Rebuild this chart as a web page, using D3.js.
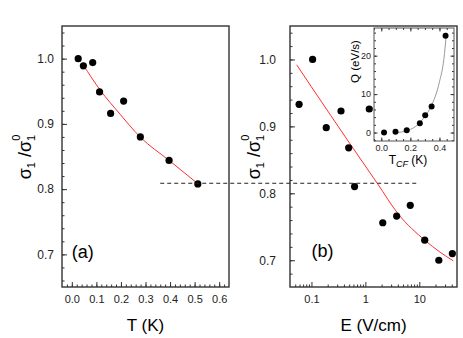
<!DOCTYPE html>
<html>
<head>
<meta charset="utf-8">
<script src="https://cdn.jsdelivr.net/npm/d3@7"></script>
<style>
body { margin: 0; background: #fff; }
svg { display: block; font-family: "Liberation Sans", Arial, sans-serif; }
.frame { fill: none; stroke: #333; stroke-width: 1.4; }
.axis path { display: none; }
.axis line { stroke: #333; stroke-width: 1; }
.axis text { fill: #222; }
</style>
</head>
<body>
<script>
// (a) sigma vs temperature
const tempT = [0.026, 0.047, 0.085, 0.113, 0.158, 0.211, 0.279, 0.396, 0.513];
const tempSigma = [1.000, 0.989, 0.994, 0.949, 0.916, 0.935, 0.880, 0.844, 0.808];
const tempFitT = [0.047, 0.115, 0.196, 0.278, 0.396, 0.511];
const tempFitSigma = [0.990, 0.952, 0.915, 0.880, 0.844, 0.809];

// (b) sigma vs field
const fieldE = [0.059, 0.105, 0.188, 0.353, 0.49, 0.63, 1.18, 2.1, 3.8, 6.8, 12.6, 23, 41];
const fieldSigma = [0.933, 1.000, 0.898, 0.923, 0.868, 0.810, 0.926, 0.756, 0.766, 0.782, 0.730, 0.700, 0.710];
const fieldFitE = [0.0532, 0.1, 0.519, 1.69, 4.08, 12.6, 24.3, 42.8];
const fieldFitSigma = [0.992, 0.959, 0.874, 0.814, 0.769, 0.730, 0.712, 0.699];

// inset: Q vs T_CF
const insetT = [0.019, 0.098, 0.175, 0.265, 0.302, 0.346, 0.442];
const insetQ = [0.0, 0.2, 0.6, 2.4, 4.5, 6.8, 25.2];
const insetFitT = [0.08, 0.12, 0.16, 0.20, 0.25, 0.30, 0.35, 0.40, 0.43, 0.448];
const insetFitQ = [0.0, 0.05, 0.3, 0.8, 2.0, 4.2, 7.4, 13.2, 19.0, 26.0];

// tick labels
const tTicks = [0, 0.1, 0.2, 0.3, 0.4, 0.5, 0.6];
const eTicks = [0.1, 1, 10];
const sigmaTicks = [0.7, 0.8, 0.9, 1.0];
const insetTTicks = [0, 0.2, 0.4];
const insetQTicks = [0, 10, 20];

// dashed guide: level and its ends
const guideLevel = 0.809;
const guideFromT = 0.36, guideToE = 10;

const width = 463, height = 338;
const panelA = {left: 62, right: 229, top: 26, bottom: 287};
const panelB = {left: 290, right: 457, top: 26, bottom: 287};
const inset = {left: 374, right: 454, top: 28, bottom: 141};

let svg = d3.select("body").append("svg")
    .attr("width", width)
    .attr("height", height);

svg.append("rect")
    .attr("width", width)
    .attr("height", height)
    .attr("fill", "#fff");

let xT = d3.scaleLinear().domain([-0.04, 0.64]).range([panelA.left, panelA.right]);
let yA = d3.scaleLinear().domain([0.65, 1.05]).range([panelA.bottom, panelA.top]);
let xE = d3.scaleLog().domain([0.04, 50]).range([panelB.left, panelB.right]);
let yB = d3.scaleLinear().domain([0.66, 1.05]).range([panelB.bottom, panelB.top]);
let xI = d3.scaleLinear().domain([-0.05, 0.5]).range([inset.left, inset.right]);
let yI = d3.scaleLinear().domain([-2.2, 27.2]).range([inset.bottom, inset.top]);

function addAxis(axis, transform, fontSize) {
    let g = svg.append("g")
        .attr("class", "axis")
        .attr("transform", transform)
        .call(axis);
    g.selectAll("text").style("font-size", fontSize + "px");
    return g;
}

// ---- panel (a)
addAxis(d3.axisBottom(xT).tickValues(d3.range(-0.02, 0.64, 0.02)).tickFormat("").tickSize(-2.5),
    "translate(0," + panelA.bottom + ")", 11);
addAxis(d3.axisBottom(xT).tickValues(tTicks).tickFormat(d3.format(".1f")).tickSize(-5).tickPadding(8),
    "translate(0," + panelA.bottom + ")", 11);
addAxis(d3.axisLeft(yA).tickValues(d3.range(0.66, 1.05, 0.02)).tickFormat("").tickSize(-2.5),
    "translate(" + panelA.left + ",0)", 12);
addAxis(d3.axisLeft(yA).tickValues(sigmaTicks).tickFormat(d3.format(".1f")).tickSize(-5).tickPadding(8),
    "translate(" + panelA.left + ",0)", 12);

svg.append("rect")
    .attr("class", "frame")
    .attr("x", panelA.left).attr("y", panelA.top)
    .attr("width", panelA.right - panelA.left)
    .attr("height", panelA.bottom - panelA.top);

let fitA = d3.line()
    .x(function(d, i) { return xT(tempFitT[i]); })
    .y(function(d) { return yA(d); })
    .curve(d3.curveMonotoneX);

svg.append("path")
    .datum(tempFitSigma)
    .attr("fill", "none")
    .attr("stroke", "#ff3030")
    .attr("stroke-width", 1)
    .attr("d", fitA);

svg.append("g").selectAll("circle")
    .data(tempSigma)
    .join("circle")
    .attr("cx", (d, i) => xT(tempT[i]))
    .attr("cy", d => yA(d))
    .attr("r", 3.6)
    .attr("fill", "#000");

svg.append("text")
    .attr("x", xT(0.0))
    .attr("y", 258)
    .style("font-size", "18px")
    .text("(a)");

svg.append("text")
    .attr("x", (panelA.left + panelA.right) / 2)
    .attr("y", 331)
    .style("text-anchor", "middle")
    .style("font-size", "17px")
    .text("T (K)");

// ---- panel (b)
let eMinor = [0.05, 0.06, 0.07, 0.08, 0.09, 0.2, 0.3, 0.4, 0.5, 0.6, 0.7, 0.8, 0.9,
    2, 3, 4, 5, 6, 7, 8, 9, 20, 30, 40];
addAxis(d3.axisBottom(xE).tickValues(eMinor).tickFormat("").tickSize(-2.5),
    "translate(0," + panelB.bottom + ")", 11);
addAxis(d3.axisBottom(xE).tickValues(eTicks).tickFormat(d3.format("")).tickSize(-5).tickPadding(8),
    "translate(0," + panelB.bottom + ")", 11);
addAxis(d3.axisLeft(yB).tickValues(d3.range(0.68, 1.05, 0.02)).tickFormat("").tickSize(-2.5),
    "translate(" + panelB.left + ",0)", 12);
addAxis(d3.axisLeft(yB).tickValues(sigmaTicks).tickFormat(d3.format(".1f")).tickSize(-5).tickPadding(14),
    "translate(" + panelB.left + ",0)", 12);

svg.append("rect")
    .attr("class", "frame")
    .attr("x", panelB.left).attr("y", panelB.top)
    .attr("width", panelB.right - panelB.left)
    .attr("height", panelB.bottom - panelB.top);

let fitB = d3.line()
    .x(function(d, i) { return xE(fieldFitE[i]); })
    .y(function(d) { return yB(d); })
    .curve(d3.curveMonotoneX);

svg.append("path")
    .datum(fieldFitSigma)
    .attr("fill", "none")
    .attr("stroke", "#ff3030")
    .attr("stroke-width", 1)
    .attr("d", fitB);

svg.append("g").selectAll("circle")
    .data(fieldSigma)
    .join("circle")
    .attr("cx", (d, i) => xE(fieldE[i]))
    .attr("cy", d => yB(d))
    .attr("r", 3.6)
    .attr("fill", "#000");

svg.append("text")
    .attr("x", xE(0.1))
    .attr("y", 257)
    .style("font-size", "18px")
    .text("(b)");

svg.append("text")
    .attr("x", (panelB.left + panelB.right) / 2)
    .attr("y", 331)
    .style("text-anchor", "middle")
    .style("font-size", "17px")
    .text("E (V/cm)");

// dashed guide across both panels
svg.append("line")
    .attr("x1", xT(guideFromT))
    .attr("x2", xE(guideToE))
    .attr("y1", yA(guideLevel))
    .attr("y2", yA(guideLevel))
    .attr("stroke", "#222")
    .attr("stroke-width", 1)
    .attr("stroke-dasharray", "4,3");

// y labels
function sigmaLabel(cx, cy) {
    let t = svg.append("text")
        .attr("transform", "translate(" + cx + "," + cy + ") rotate(-90)")
        .style("text-anchor", "middle")
        .style("font-size", "18px");
    t.append("tspan").text("\u03c3");
    t.append("tspan").attr("dy", 4).style("font-size", "11px").text("1");
    t.append("tspan").attr("dy", -4).text(" /\u03c3");
    t.append("tspan").attr("dy", 4).style("font-size", "11px").text("1");
    t.append("tspan").attr("dx", -6).attr("dy", -15).style("font-size", "11px").text("0");
}
sigmaLabel(31, 157);
sigmaLabel(260, 157);

// ---- inset
svg.append("rect")
    .attr("x", inset.left).attr("y", inset.top)
    .attr("width", inset.right - inset.left)
    .attr("height", inset.bottom - inset.top)
    .attr("fill", "#fff");

let iMinorX = d3.range(-0.05, 0.5, 0.05);
let iMinorY = d3.range(-2, 27, 2);
addAxis(d3.axisBottom(xI).tickValues(iMinorX).tickFormat("").tickSize(-2),
    "translate(0," + inset.bottom + ")", 9);
addAxis(d3.axisBottom(xI).tickValues(insetTTicks).tickFormat(d3.format(".1f")).tickSize(-3.5).tickPadding(4),
    "translate(0," + inset.bottom + ")", 9);
addAxis(d3.axisTop(xI).tickValues(iMinorX).tickFormat("").tickSize(-2),
    "translate(0," + inset.top + ")", 9);
addAxis(d3.axisTop(xI).tickValues(insetTTicks).tickFormat("").tickSize(-3.5),
    "translate(0," + inset.top + ")", 9);
addAxis(d3.axisLeft(yI).tickValues(iMinorY).tickFormat("").tickSize(-2),
    "translate(" + inset.left + ",0)", 9);
addAxis(d3.axisLeft(yI).tickValues(insetQTicks).tickFormat(d3.format("d")).tickSize(-3.5).tickPadding(3),
    "translate(" + inset.left + ",0)", 9);
addAxis(d3.axisRight(yI).tickValues(iMinorY).tickFormat("").tickSize(-2),
    "translate(" + inset.right + ",0)", 9);
addAxis(d3.axisRight(yI).tickValues(insetQTicks).tickFormat("").tickSize(-3.5),
    "translate(" + inset.right + ",0)", 9);

svg.append("rect")
    .attr("x", inset.left).attr("y", inset.top)
    .attr("width", inset.right - inset.left)
    .attr("height", inset.bottom - inset.top)
    .attr("fill", "none")
    .attr("stroke", "#555")
    .attr("stroke-width", 1);

let fitI = d3.line()
    .x(function(d, i) { return xI(insetFitT[i]); })
    .y(function(d) { return yI(d); })
    .curve(d3.curveMonotoneX);

svg.append("path")
    .datum(insetFitQ)
    .attr("fill", "none")
    .attr("stroke", "#999")
    .attr("stroke-width", 1)
    .attr("d", fitI);

svg.append("g").selectAll("circle")
    .data(insetQ)
    .join("circle")
    .attr("cx", (d, i) => xI(insetT[i]))
    .attr("cy", d => yI(d))
    .attr("r", 3)
    .attr("fill", "#000");

svg.append("text")
    .attr("transform", "translate(359," + ((inset.top + inset.bottom) / 2 - 23) + ") rotate(-90)")
    .style("text-anchor", "middle")
    .style("font-size", "11.5px")
    .text("Q (eV/s)");

let tcf = svg.append("text")
    .attr("x", (inset.left + inset.right) / 2 - 6)
    .attr("y", 164)
    .style("text-anchor", "middle")
    .style("font-size", "12px");
tcf.append("tspan").text("T");
tcf.append("tspan").attr("dy", 3).style("font-size", "9px").style("font-style", "italic").text("CF");
tcf.append("tspan").attr("dy", -3).text(" (K)");
</script>
</body>
</html>
